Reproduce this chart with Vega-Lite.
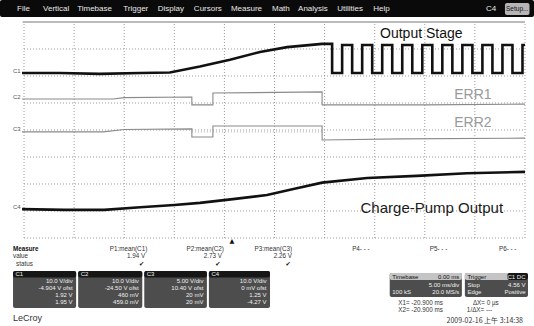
{
  "$schema": "https://vega.github.io/schema/vega-lite/v6.json",
  "width": 534,
  "height": 326,
  "autosize": {"type": "fit", "contains": "padding"},
  "padding": 0,
  "background": "white",
  "config": {"view": {"stroke": null}, "text": {"font": "Liberation Sans", "baseline": "middle"}},
  "datasets": {
    "gx": [{"t": -50}, {"t": -40}, {"t": -30}, {"t": -20}, {"t": -10}, {"t": 0}, {"t": 10}, {"t": 20}, {"t": 30}, {"t": 40}, {"t": 50}],
    "gy": [{"v": -40}, {"v": -30}, {"v": -20}, {"v": -10}, {"v": 0}, {"v": 10}, {"v": 20}, {"v": 30}],
    "top": [{"v": 40}],
    "traces": [
      {"s": "out", "i": 0, "t": -50.4, "v": 21.1}, {"s": "out", "i": 1, "t": -42.9, "v": 21.1}, {"s": "out", "i": 2, "t": -34.9, "v": 20.8}, {"s": "out", "i": 3, "t": -26.8, "v": 21.1}, {"s": "out", "i": 4, "t": -20.9, "v": 21.3}, {"s": "out", "i": 5, "t": -14.9, "v": 23.5}, {"s": "out", "i": 6, "t": -8.9, "v": 26.0}, {"s": "out", "i": 7, "t": -2.9, "v": 28.9}, {"s": "out", "i": 8, "t": 2.5, "v": 30.7}, {"s": "out", "i": 9, "t": 9.5, "v": 31.9}, {"s": "out", "i": 10, "t": 11.5, "v": 31.9},
      {"s": "out", "i": 11, "t": 11.5, "v": 21.1}, {"s": "out", "i": 12, "t": 13.5, "v": 21.1}, {"s": "out", "i": 13, "t": 13.5, "v": 31.5}, {"s": "out", "i": 14, "t": 15.5, "v": 31.5}, {"s": "out", "i": 15, "t": 15.5, "v": 21.1}, {"s": "out", "i": 16, "t": 17.5, "v": 21.1}, {"s": "out", "i": 17, "t": 17.5, "v": 31.5}, {"s": "out", "i": 18, "t": 19.5, "v": 31.5}, {"s": "out", "i": 19, "t": 19.5, "v": 21.1}, {"s": "out", "i": 20, "t": 21.5, "v": 21.1},
      {"s": "out", "i": 21, "t": 21.5, "v": 31.5}, {"s": "out", "i": 22, "t": 23.5, "v": 31.5}, {"s": "out", "i": 23, "t": 23.5, "v": 21.1}, {"s": "out", "i": 24, "t": 25.5, "v": 21.1}, {"s": "out", "i": 25, "t": 25.5, "v": 31.5}, {"s": "out", "i": 26, "t": 27.5, "v": 31.5}, {"s": "out", "i": 27, "t": 27.5, "v": 21.1}, {"s": "out", "i": 28, "t": 29.5, "v": 21.1}, {"s": "out", "i": 29, "t": 29.5, "v": 31.5}, {"s": "out", "i": 30, "t": 31.5, "v": 31.5},
      {"s": "out", "i": 31, "t": 31.5, "v": 21.1}, {"s": "out", "i": 32, "t": 33.5, "v": 21.1}, {"s": "out", "i": 33, "t": 33.5, "v": 31.5}, {"s": "out", "i": 34, "t": 35.5, "v": 31.5}, {"s": "out", "i": 35, "t": 35.5, "v": 21.1}, {"s": "out", "i": 36, "t": 37.5, "v": 21.1}, {"s": "out", "i": 37, "t": 37.5, "v": 31.5}, {"s": "out", "i": 38, "t": 39.5, "v": 31.5}, {"s": "out", "i": 39, "t": 39.5, "v": 21.1}, {"s": "out", "i": 40, "t": 41.5, "v": 21.1},
      {"s": "out", "i": 41, "t": 41.5, "v": 31.5}, {"s": "out", "i": 42, "t": 43.5, "v": 31.5}, {"s": "out", "i": 43, "t": 43.5, "v": 21.1}, {"s": "out", "i": 44, "t": 45.5, "v": 21.1}, {"s": "out", "i": 45, "t": 45.5, "v": 31.5}, {"s": "out", "i": 46, "t": 47.5, "v": 31.5}, {"s": "out", "i": 47, "t": 47.5, "v": 21.1}, {"s": "out", "i": 48, "t": 49.5, "v": 21.1}, {"s": "out", "i": 49, "t": 49.5, "v": 31.5}, {"s": "out", "i": 50, "t": 50.0, "v": 31.5},
      {"s": "cp", "i": 0, "t": -50.4, "v": -29.3}, {"s": "cp", "i": 1, "t": -42.0, "v": -29.6}, {"s": "cp", "i": 2, "t": -34.0, "v": -29.6}, {"s": "cp", "i": 3, "t": -26.8, "v": -28.6}, {"s": "cp", "i": 4, "t": -20.0, "v": -27.8}, {"s": "cp", "i": 5, "t": -14.9, "v": -27.0}, {"s": "cp", "i": 6, "t": -8.3, "v": -25.6}, {"s": "cp", "i": 7, "t": -1.5, "v": -24.1}, {"s": "cp", "i": 8, "t": 4.0, "v": -21.8}, {"s": "cp", "i": 9, "t": 9.5, "v": -19.5}, {"s": "cp", "i": 10, "t": 18.5, "v": -17.8}, {"s": "cp", "i": 11, "t": 28.4, "v": -17.0}, {"s": "cp", "i": 12, "t": 38.4, "v": -16.0}, {"s": "cp", "i": 13, "t": 50.0, "v": -15.5},
      {"s": "err1", "i": 0, "t": -50.4, "v": 11.5}, {"s": "err1", "i": 1, "t": -32.2, "v": 11.5}, {"s": "err1", "i": 2, "t": -30.0, "v": 12.0}, {"s": "err1", "i": 3, "t": -16.5, "v": 12.2}, {"s": "err1", "i": 4, "t": -16.5, "v": 9.3}, {"s": "err1", "i": 5, "t": -12.3, "v": 9.3}, {"s": "err1", "i": 6, "t": -12.3, "v": 13.7}, {"s": "err1", "i": 7, "t": 9.5, "v": 14.1}, {"s": "err1", "i": 8, "t": 9.5, "v": 9.3}, {"s": "err1", "i": 9, "t": 30.0, "v": 9.3}, {"s": "err1", "i": 10, "t": 50.0, "v": 9.6},
      {"s": "err2", "i": 0, "t": -50.4, "v": -0.7}, {"s": "err2", "i": 1, "t": -34.2, "v": -0.7}, {"s": "err2", "i": 2, "t": -30.0, "v": 0.2}, {"s": "err2", "i": 3, "t": -16.5, "v": 0.4}, {"s": "err2", "i": 4, "t": -16.5, "v": -2.6}, {"s": "err2", "i": 5, "t": -12.3, "v": -2.6}, {"s": "err2", "i": 6, "t": -12.3, "v": 1.5}, {"s": "err2", "i": 7, "t": 9.5, "v": 1.5}, {"s": "err2", "i": 8, "t": 9.5, "v": -3.7}, {"s": "err2", "i": 9, "t": 25.0, "v": -3.3}, {"s": "err2", "i": 10, "t": 50.0, "v": -3.0},
      {"s": "g2", "i": 0, "t": -16.5, "v": -0.7}, {"s": "g2", "i": 1, "t": 9.5, "v": -0.7}
    ],
    "boxes": [
      {"k": "bar", "t": -54.8, "t2": 51.8, "v": 41.85, "v2": 48.15},
      {"k": "btn", "t": 46.0, "t2": 50.9, "v": 42.6, "v2": 47.0},
      {"k": "box", "t": -52.2, "t2": -39.6, "v": -65.9, "v2": -52.2},
      {"k": "box", "t": -39.2, "t2": -26.4, "v": -65.9, "v2": -52.2},
      {"k": "box", "t": -26.0, "t2": -13.5, "v": -65.9, "v2": -52.2},
      {"k": "box", "t": -13.1, "t2": -0.9, "v": -65.9, "v2": -52.2},
      {"k": "head", "t": -52.2, "t2": -39.6, "v": -54.6, "v2": -52.2},
      {"k": "head", "t": -39.2, "t2": -26.4, "v": -54.6, "v2": -52.2},
      {"k": "head", "t": -26.0, "t2": -13.5, "v": -54.6, "v2": -52.2},
      {"k": "head", "t": -13.1, "t2": -0.9, "v": -54.6, "v2": -52.2},
      {"k": "box", "t": 23.0, "t2": 37.4, "v": -61.9, "v2": -53.0},
      {"k": "box", "t": 38.0, "t2": 50.6, "v": -61.9, "v2": -53.0},
      {"k": "lhead", "t": 23.0, "t2": 37.4, "v": -55.6, "v2": -53.0},
      {"k": "lhead", "t": 38.0, "t2": 50.6, "v": -55.6, "v2": -53.0},
      {"k": "head", "t": 46.5, "t2": 50.6, "v": -55.6, "v2": -53.0}
    ],
    "labels": [
      {"g": "menu", "t": -51.4, "v": 44.8, "txt": "File"},
      {"g": "menu", "t": -46.2, "v": 44.8, "txt": "Vertical"},
      {"g": "menu", "t": -39.4, "v": 44.8, "txt": "Timebase"},
      {"g": "menu", "t": -30.2, "v": 44.8, "txt": "Trigger"},
      {"g": "menu", "t": -23.3, "v": 44.8, "txt": "Display"},
      {"g": "menu", "t": -16.1, "v": 44.8, "txt": "Cursors"},
      {"g": "menu", "t": -8.7, "v": 44.8, "txt": "Measure"},
      {"g": "menu", "t": -0.5, "v": 44.8, "txt": "Math"},
      {"g": "menu", "t": 4.7, "v": 44.8, "txt": "Analysis"},
      {"g": "menu", "t": 12.5, "v": 44.8, "txt": "Utilities"},
      {"g": "menu", "t": 19.7, "v": 44.8, "txt": "Help"},
      {"g": "menu", "t": 42.2, "v": 44.8, "txt": "C4"},
      {"g": "btn", "t": 48.45, "v": 44.8, "txt": "Setup..."},
      {"g": "out", "t": 29.3, "v": 35.6, "txt": "Output Stage"},
      {"g": "err", "t": 39.6, "v": 13.0, "txt": "ERR1"},
      {"g": "err", "t": 39.6, "v": 2.6, "txt": "ERR2"},
      {"g": "cp", "t": 31.4, "v": -28.9, "txt": "Charge-Pump Output"},
      {"g": "ch", "t": -52.2, "v": 21.9, "txt": "C1"},
      {"g": "ch", "t": -52.2, "v": 12.2, "txt": "C2"},
      {"g": "ch", "t": -52.2, "v": 0.4, "txt": "C3"},
      {"g": "ch", "t": -52.2, "v": -28.5, "txt": "C4"},
      {"g": "pb", "t": -52.2, "v": -44.1, "txt": "Measure"},
      {"g": "pl", "t": -52.2, "v": -46.8, "txt": "value"},
      {"g": "pl", "t": -51.6, "v": -49.5, "txt": "status"},
      {"g": "pl", "t": 15.5, "v": -44.1, "txt": "P4- - -"},
      {"g": "pl", "t": 31.0, "v": -44.1, "txt": "P5- - -"},
      {"g": "pl", "t": 44.8, "v": -44.1, "txt": "P6- - -"},
      {"g": "pl", "t": 24.7, "v": -64.0, "txt": "X1= -20.900 ms"},
      {"g": "pl", "t": 39.6, "v": -64.0, "txt": "ΔX= 0 µs"},
      {"g": "pl", "t": 24.7, "v": -66.8, "txt": "X2= -20.900 ms"},
      {"g": "pl", "t": 38.4, "v": -66.8, "txt": "1/ΔX=   ---"},
      {"g": "pr", "t": -25.4, "v": -44.1, "txt": "P1:mean(C1)"},
      {"g": "pr", "t": -10.1, "v": -44.1, "txt": "P2:mean(C2)"},
      {"g": "pr", "t": 3.5, "v": -44.1, "txt": "P3:mean(C3)"},
      {"g": "pr", "t": -25.8, "v": -46.8, "txt": "1.94 V"},
      {"g": "pr", "t": -10.5, "v": -46.8, "txt": "2.73 V"},
      {"g": "pr", "t": 3.5, "v": -46.8, "txt": "2.26 V"},
      {"g": "chk", "t": -26.5, "v": -49.5, "txt": "✔"},
      {"g": "chk", "t": -11.3, "v": -49.5, "txt": "✔"},
      {"g": "chk", "t": 2.7, "v": -49.5, "txt": "✔"},
      {"g": "chk", "t": -8.5, "v": -41.1, "txt": "▲"},
      {"g": "bw", "t": -40.3, "v": -55.9, "txt": "10.0 V/div"},
      {"g": "bw", "t": -40.3, "v": -58.5, "txt": "-4.904 V ofst"},
      {"g": "bw", "t": -40.3, "v": -61.1, "txt": "1.92 V"},
      {"g": "bw", "t": -40.3, "v": -63.7, "txt": "1.95 V"},
      {"g": "bw", "t": -27.1, "v": -55.9, "txt": "10.0 V/div"},
      {"g": "bw", "t": -27.1, "v": -58.5, "txt": "-24.50 V ofst"},
      {"g": "bw", "t": -27.1, "v": -61.1, "txt": "460 mV"},
      {"g": "bw", "t": -27.1, "v": -63.7, "txt": "459.0 mV"},
      {"g": "bw", "t": -14.2, "v": -55.9, "txt": "5.00 V/div"},
      {"g": "bw", "t": -14.2, "v": -58.5, "txt": "10.40 V ofst"},
      {"g": "bw", "t": -14.2, "v": -61.1, "txt": "20 mV"},
      {"g": "bw", "t": -14.2, "v": -63.7, "txt": "20 mV"},
      {"g": "bw", "t": -1.6, "v": -55.9, "txt": "10.0 V/div"},
      {"g": "bw", "t": -1.6, "v": -58.5, "txt": "0 mV ofst"},
      {"g": "bw", "t": -1.6, "v": -61.1, "txt": "1.25 V"},
      {"g": "bw", "t": -1.6, "v": -63.7, "txt": "-4.27 V"},
      {"g": "bw", "t": 36.9, "v": -57.4, "txt": "5.00 ms/div"},
      {"g": "bw", "t": 36.9, "v": -60.0, "txt": "20.0 MS/s"},
      {"g": "bw", "t": 50.1, "v": -57.4, "txt": "4.56 V"},
      {"g": "bw", "t": 50.1, "v": -60.0, "txt": "Positive"},
      {"g": "bw", "t": 50.1, "v": -54.3, "txt": "C1 DC"},
      {"g": "bwl", "t": -51.7, "v": -53.4, "txt": "C1"},
      {"g": "bwl", "t": -38.7, "v": -53.4, "txt": "C2"},
      {"g": "bwl", "t": -25.5, "v": -53.4, "txt": "C3"},
      {"g": "bwl", "t": -12.6, "v": -53.4, "txt": "C4"},
      {"g": "bwl", "t": 23.5, "v": -60.0, "txt": "100 kS"},
      {"g": "bwl", "t": 38.5, "v": -57.4, "txt": "Stop"},
      {"g": "bwl", "t": 38.5, "v": -60.0, "txt": "Edge"},
      {"g": "bdl", "t": 23.5, "v": -54.3, "txt": "Timebase"},
      {"g": "bdl", "t": 38.5, "v": -54.3, "txt": "Trigger"},
      {"g": "bdr", "t": 36.9, "v": -54.3, "txt": "0.00 ms"},
      {"g": "logo", "t": -52.2, "v": -69.6, "txt": "LeCroy"},
      {"g": "date", "t": 49.6, "v": -70.6, "txt": "2009-02-16 上午 3:14:38"}
    ]
  },
  "layer": [
    {
      "data": {"name": "gx"},
      "mark": {"type": "rule", "color": "#9a9a9a", "strokeDash": [1, 2], "strokeWidth": 1},
      "encoding": {
        "x": {"field": "t", "type": "quantitative", "scale": {"domain": [-54.8, 51.8], "nice": false, "zero": false}, "axis": null},
        "y": {"datum": -40, "type": "quantitative", "scale": {"domain": [-72.6, 48.15], "nice": false, "zero": false}, "axis": null},
        "y2": {"datum": 40}
      }
    },
    {
      "data": {"name": "gy"},
      "mark": {"type": "rule", "color": "#9a9a9a", "strokeDash": [1, 2], "strokeWidth": 1},
      "encoding": {
        "x": {"datum": -50, "type": "quantitative", "scale": {"domain": [-54.8, 51.8], "nice": false, "zero": false}, "axis": null},
        "x2": {"datum": 50},
        "y": {"field": "v", "type": "quantitative", "scale": {"domain": [-72.6, 48.15], "nice": false, "zero": false}, "axis": null}
      }
    },
    {
      "data": {"name": "top"},
      "mark": {"type": "rule", "color": "#777777", "strokeWidth": 1},
      "encoding": {
        "x": {"datum": -50.3, "type": "quantitative", "scale": {"domain": [-54.8, 51.8], "nice": false, "zero": false}, "axis": null},
        "x2": {"datum": 50},
        "y": {"field": "v", "type": "quantitative", "scale": {"domain": [-72.6, 48.15], "nice": false, "zero": false}, "axis": null}
      }
    },
    {
      "data": {"name": "traces"},
      "transform": [{"filter": "datum.s === 'g2'"}],
      "mark": {"type": "line", "color": "#aaaaaa", "strokeWidth": 1, "strokeDash": [1, 2]},
      "encoding": {
        "x": {"field": "t", "type": "quantitative", "scale": {"domain": [-54.8, 51.8], "nice": false, "zero": false}, "axis": null},
        "y": {"field": "v", "type": "quantitative", "scale": {"domain": [-72.6, 48.15], "nice": false, "zero": false}, "axis": null},
        "detail": {"field": "s"},
        "order": {"field": "i", "type": "quantitative"}
      }
    },
    {
      "data": {"name": "traces"},
      "transform": [{"filter": "datum.s === 'err1' || datum.s === 'err2'"}],
      "mark": {"type": "line", "color": "#8a8a8a", "strokeWidth": 1.1},
      "encoding": {
        "x": {"field": "t", "type": "quantitative", "scale": {"domain": [-54.8, 51.8], "nice": false, "zero": false}, "axis": null},
        "y": {"field": "v", "type": "quantitative", "scale": {"domain": [-72.6, 48.15], "nice": false, "zero": false}, "axis": null},
        "detail": {"field": "s"},
        "order": {"field": "i", "type": "quantitative"}
      }
    },
    {
      "data": {"name": "traces"},
      "transform": [{"filter": "datum.s === 'out' || datum.s === 'cp'"}],
      "mark": {"type": "line", "color": "#111111", "strokeWidth": 2.6},
      "encoding": {
        "x": {"field": "t", "type": "quantitative", "scale": {"domain": [-54.8, 51.8], "nice": false, "zero": false}, "axis": null},
        "y": {"field": "v", "type": "quantitative", "scale": {"domain": [-72.6, 48.15], "nice": false, "zero": false}, "axis": null},
        "detail": {"field": "s"},
        "order": {"field": "i", "type": "quantitative"}
      }
    },
    {
      "data": {"name": "boxes"},
      "mark": {"type": "rect", "cornerRadius": 2},
      "encoding": {
        "x": {"field": "t", "type": "quantitative", "scale": {"domain": [-54.8, 51.8], "nice": false, "zero": false}, "axis": null},
        "x2": {"field": "t2"},
        "y": {"field": "v", "type": "quantitative", "scale": {"domain": [-72.6, 48.15], "nice": false, "zero": false}, "axis": null},
        "y2": {"field": "v2"},
        "color": {"field": "k", "type": "nominal", "legend": null, "scale": {"domain": ["bar", "btn", "box", "head", "lhead"], "range": ["#0a0a0a", "#b5b5b5", "#4d4d4d", "#161616", "#c4c4c4"]}}
      }
    },
    {"data": {"name": "labels"}, "transform": [{"filter": "datum.g === 'menu'"}], "mark": {"type": "text", "align": "left", "fontSize": 8, "color": "#e8e8e8"},
      "encoding": {"x": {"field": "t", "type": "quantitative", "scale": {"domain": [-54.8, 51.8], "nice": false, "zero": false}, "axis": null}, "y": {"field": "v", "type": "quantitative", "scale": {"domain": [-72.6, 48.15], "nice": false, "zero": false}, "axis": null}, "text": {"field": "txt"}}},
    {"data": {"name": "labels"}, "transform": [{"filter": "datum.g === 'btn'"}], "mark": {"type": "text", "align": "center", "fontSize": 6.5, "color": "#111111"},
      "encoding": {"x": {"field": "t", "type": "quantitative", "scale": {"domain": [-54.8, 51.8], "nice": false, "zero": false}, "axis": null}, "y": {"field": "v", "type": "quantitative", "scale": {"domain": [-72.6, 48.15], "nice": false, "zero": false}, "axis": null}, "text": {"field": "txt"}}},
    {"data": {"name": "labels"}, "transform": [{"filter": "datum.g === 'out'"}], "mark": {"type": "text", "align": "center", "fontSize": 14, "color": "#111111"},
      "encoding": {"x": {"field": "t", "type": "quantitative", "scale": {"domain": [-54.8, 51.8], "nice": false, "zero": false}, "axis": null}, "y": {"field": "v", "type": "quantitative", "scale": {"domain": [-72.6, 48.15], "nice": false, "zero": false}, "axis": null}, "text": {"field": "txt"}}},
    {"data": {"name": "labels"}, "transform": [{"filter": "datum.g === 'err'"}], "mark": {"type": "text", "align": "center", "fontSize": 14, "color": "#9a9a9a"},
      "encoding": {"x": {"field": "t", "type": "quantitative", "scale": {"domain": [-54.8, 51.8], "nice": false, "zero": false}, "axis": null}, "y": {"field": "v", "type": "quantitative", "scale": {"domain": [-72.6, 48.15], "nice": false, "zero": false}, "axis": null}, "text": {"field": "txt"}}},
    {"data": {"name": "labels"}, "transform": [{"filter": "datum.g === 'cp'"}], "mark": {"type": "text", "align": "center", "fontSize": 15, "color": "#1a1a1a"},
      "encoding": {"x": {"field": "t", "type": "quantitative", "scale": {"domain": [-54.8, 51.8], "nice": false, "zero": false}, "axis": null}, "y": {"field": "v", "type": "quantitative", "scale": {"domain": [-72.6, 48.15], "nice": false, "zero": false}, "axis": null}, "text": {"field": "txt"}}},
    {"data": {"name": "labels"}, "transform": [{"filter": "datum.g === 'ch'"}], "mark": {"type": "text", "align": "left", "fontSize": 6, "color": "#555555"},
      "encoding": {"x": {"field": "t", "type": "quantitative", "scale": {"domain": [-54.8, 51.8], "nice": false, "zero": false}, "axis": null}, "y": {"field": "v", "type": "quantitative", "scale": {"domain": [-72.6, 48.15], "nice": false, "zero": false}, "axis": null}, "text": {"field": "txt"}}},
    {"data": {"name": "labels"}, "transform": [{"filter": "datum.g === 'pl'"}], "mark": {"type": "text", "align": "left", "fontSize": 6.3, "color": "#333333"},
      "encoding": {"x": {"field": "t", "type": "quantitative", "scale": {"domain": [-54.8, 51.8], "nice": false, "zero": false}, "axis": null}, "y": {"field": "v", "type": "quantitative", "scale": {"domain": [-72.6, 48.15], "nice": false, "zero": false}, "axis": null}, "text": {"field": "txt"}}},
    {"data": {"name": "labels"}, "transform": [{"filter": "datum.g === 'pb'"}], "mark": {"type": "text", "align": "left", "fontSize": 6.3, "fontWeight": "bold", "color": "#111111"},
      "encoding": {"x": {"field": "t", "type": "quantitative", "scale": {"domain": [-54.8, 51.8], "nice": false, "zero": false}, "axis": null}, "y": {"field": "v", "type": "quantitative", "scale": {"domain": [-72.6, 48.15], "nice": false, "zero": false}, "axis": null}, "text": {"field": "txt"}}},
    {"data": {"name": "labels"}, "transform": [{"filter": "datum.g === 'pr'"}], "mark": {"type": "text", "align": "right", "fontSize": 6.3, "color": "#333333"},
      "encoding": {"x": {"field": "t", "type": "quantitative", "scale": {"domain": [-54.8, 51.8], "nice": false, "zero": false}, "axis": null}, "y": {"field": "v", "type": "quantitative", "scale": {"domain": [-72.6, 48.15], "nice": false, "zero": false}, "axis": null}, "text": {"field": "txt"}}},
    {"data": {"name": "labels"}, "transform": [{"filter": "datum.g === 'chk'"}], "mark": {"type": "text", "align": "center", "fontSize": 6.3, "color": "#111111", "font": "DejaVu Sans"},
      "encoding": {"x": {"field": "t", "type": "quantitative", "scale": {"domain": [-54.8, 51.8], "nice": false, "zero": false}, "axis": null}, "y": {"field": "v", "type": "quantitative", "scale": {"domain": [-72.6, 48.15], "nice": false, "zero": false}, "axis": null}, "text": {"field": "txt"}}},
    {"data": {"name": "labels"}, "transform": [{"filter": "datum.g === 'bw'"}], "mark": {"type": "text", "align": "right", "fontSize": 6, "color": "#f0f0f0"},
      "encoding": {"x": {"field": "t", "type": "quantitative", "scale": {"domain": [-54.8, 51.8], "nice": false, "zero": false}, "axis": null}, "y": {"field": "v", "type": "quantitative", "scale": {"domain": [-72.6, 48.15], "nice": false, "zero": false}, "axis": null}, "text": {"field": "txt"}}},
    {"data": {"name": "labels"}, "transform": [{"filter": "datum.g === 'bwl'"}], "mark": {"type": "text", "align": "left", "fontSize": 6, "color": "#f0f0f0"},
      "encoding": {"x": {"field": "t", "type": "quantitative", "scale": {"domain": [-54.8, 51.8], "nice": false, "zero": false}, "axis": null}, "y": {"field": "v", "type": "quantitative", "scale": {"domain": [-72.6, 48.15], "nice": false, "zero": false}, "axis": null}, "text": {"field": "txt"}}},
    {"data": {"name": "labels"}, "transform": [{"filter": "datum.g === 'bdl'"}], "mark": {"type": "text", "align": "left", "fontSize": 6, "color": "#111111"},
      "encoding": {"x": {"field": "t", "type": "quantitative", "scale": {"domain": [-54.8, 51.8], "nice": false, "zero": false}, "axis": null}, "y": {"field": "v", "type": "quantitative", "scale": {"domain": [-72.6, 48.15], "nice": false, "zero": false}, "axis": null}, "text": {"field": "txt"}}},
    {"data": {"name": "labels"}, "transform": [{"filter": "datum.g === 'bdr'"}], "mark": {"type": "text", "align": "right", "fontSize": 6, "color": "#111111"},
      "encoding": {"x": {"field": "t", "type": "quantitative", "scale": {"domain": [-54.8, 51.8], "nice": false, "zero": false}, "axis": null}, "y": {"field": "v", "type": "quantitative", "scale": {"domain": [-72.6, 48.15], "nice": false, "zero": false}, "axis": null}, "text": {"field": "txt"}}},
    {"data": {"name": "labels"}, "transform": [{"filter": "datum.g === 'logo'"}], "mark": {"type": "text", "align": "left", "fontSize": 9, "color": "#333333"},
      "encoding": {"x": {"field": "t", "type": "quantitative", "scale": {"domain": [-54.8, 51.8], "nice": false, "zero": false}, "axis": null}, "y": {"field": "v", "type": "quantitative", "scale": {"domain": [-72.6, 48.15], "nice": false, "zero": false}, "axis": null}, "text": {"field": "txt"}}},
    {"data": {"name": "labels"}, "transform": [{"filter": "datum.g === 'date'"}], "mark": {"type": "text", "align": "right", "fontSize": 7, "color": "#333333", "font": "Noto Sans CJK SC"},
      "encoding": {"x": {"field": "t", "type": "quantitative", "scale": {"domain": [-54.8, 51.8], "nice": false, "zero": false}, "axis": null}, "y": {"field": "v", "type": "quantitative", "scale": {"domain": [-72.6, 48.15], "nice": false, "zero": false}, "axis": null}, "text": {"field": "txt"}}}
  ]
}
